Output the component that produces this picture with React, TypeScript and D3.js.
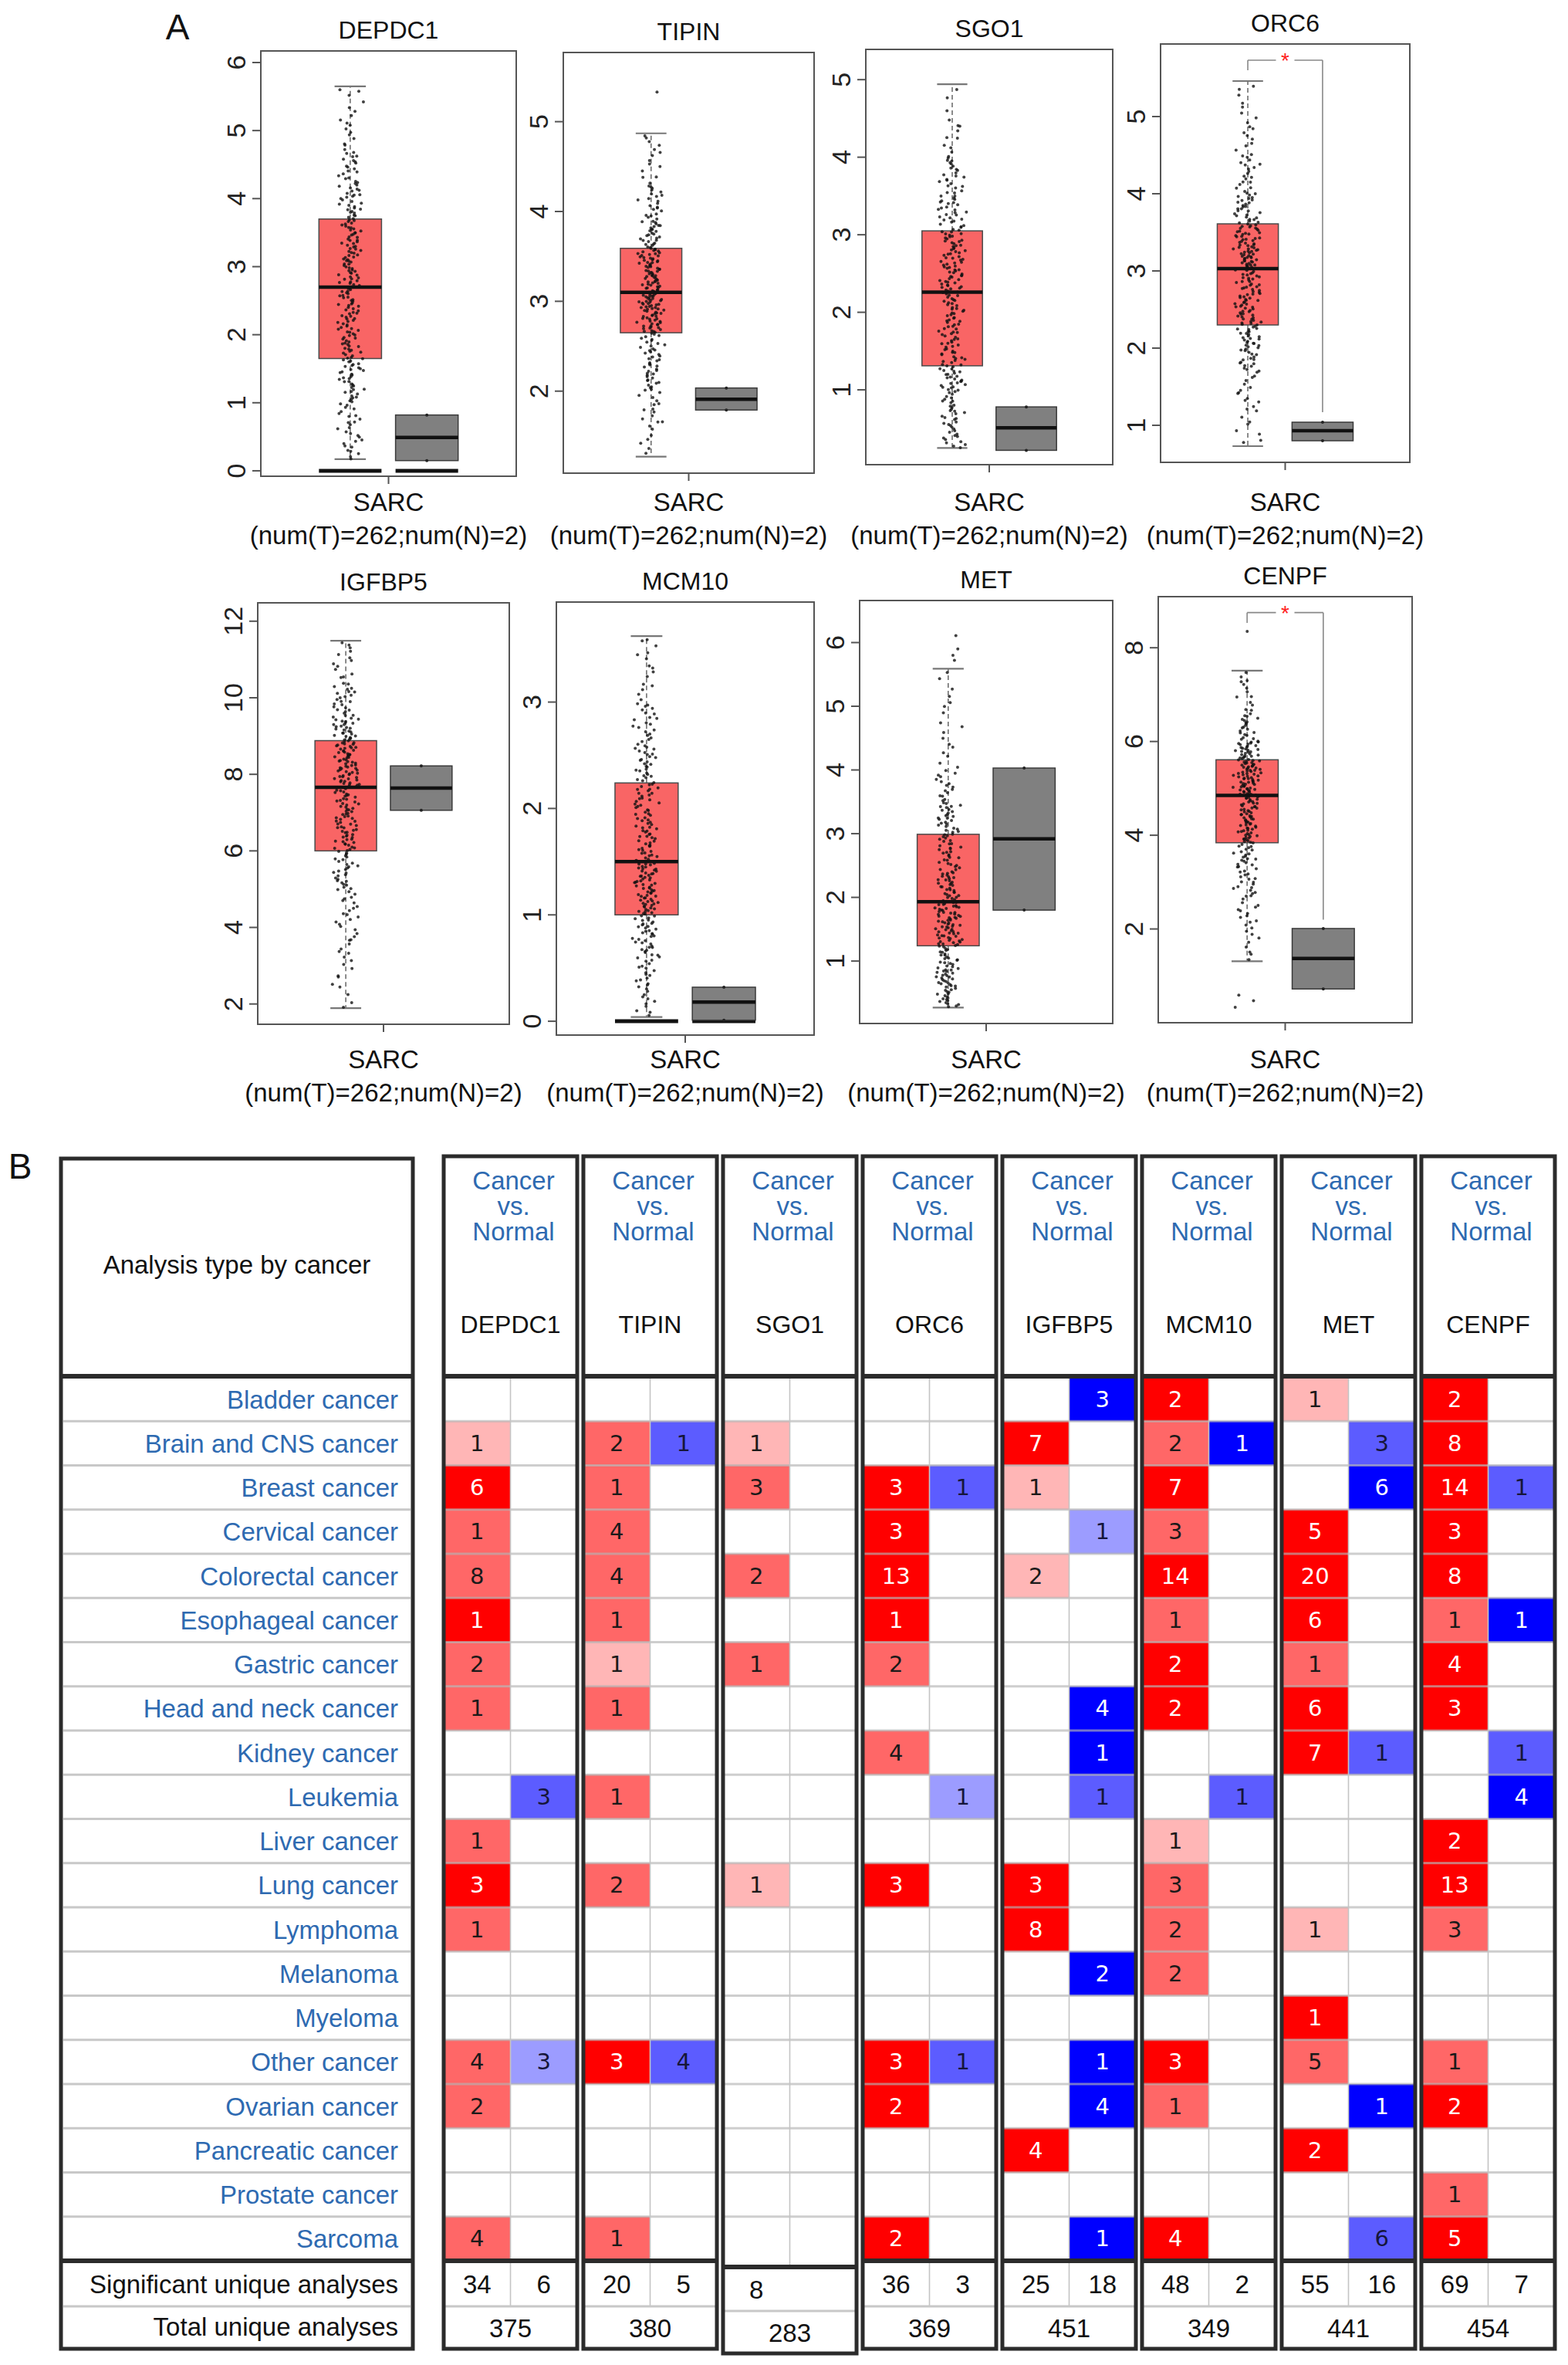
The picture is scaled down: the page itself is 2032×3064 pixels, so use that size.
import React from 'react';
import * as d3 from 'd3';

// ---------------- Panel A data ----------------
const panelGenes = ['DEPDC1', 'TIPIN', 'SGO1', 'ORC6', 'IGFBP5', 'MCM10', 'MET', 'CENPF'];
const groups = ['Tumor', 'Normal'];
const cohortLabel = 'SARC';
const cohortCounts = '(num(T)=262;num(N)=2)';

const yDomains: [number, number][] = [
  [-0.08, 6.17], [1.087, 5.77], [0.035, 5.39], [0.52, 5.94],
  [1.47, 12.48], [-0.13, 3.94], [0.02, 6.66], [0.0, 9.09],
];
const yTicks: number[][] = [
  [0, 1, 2, 3, 4, 5, 6], [2, 3, 4, 5], [1, 2, 3, 4, 5], [1, 2, 3, 4, 5],
  [2, 4, 6, 8, 10, 12], [0, 1, 2, 3], [1, 2, 3, 4, 5, 6], [2, 4, 6, 8],
];

// tumour box: [whisker low, Q1, median, Q3, whisker high]
const tumorStats: number[][] = [
  [0.17, 1.65, 2.70, 3.70, 5.65],
  [1.27, 2.65, 3.10, 3.59, 4.87],
  [0.25, 1.31, 2.26, 3.05, 4.94],
  [0.73, 2.30, 3.03, 3.61, 5.46],
  [1.89, 6.00, 7.66, 8.88, 11.49],
  [0.04, 1.00, 1.50, 2.24, 3.62],
  [0.27, 1.24, 1.93, 2.99, 5.59],
  [1.31, 3.84, 4.85, 5.61, 7.51],
];
// normal box: [min, median, max]
const normalStats: number[][] = [
  [0.15, 0.49, 0.82],
  [1.79, 1.91, 2.035],
  [0.22, 0.51, 0.78],
  [0.80, 0.93, 1.04],
  [7.06, 7.64, 8.22],
  [0.01, 0.18, 0.32],
  [1.80, 2.92, 4.03],
  [0.72, 1.37, 2.01],
];
const zeroBaseline = [true, false, false, false, false, true, false, false];
const tumorOutliers: number[][] = [[], [5.33], [], [], [], [], [5.72, 5.8, 5.9, 6.11], [8.35, 0.59, 0.47, 0.33]];

// density of the jittered tumour points: bin edges and counts
const binEdges: number[][] = [
  [0.17, 0.6, 1.0, 1.35, 1.65, 2.2, 2.7, 3.2, 3.7, 4.2, 4.7, 5.2, 5.65],
  [1.27, 1.6, 2.0, 2.3, 2.65, 2.9, 3.1, 3.35, 3.59, 3.9, 4.3, 4.87],
  [0.25, 0.6, 1.0, 1.31, 1.8, 2.26, 2.65, 3.05, 3.5, 4.0, 4.5, 4.94],
  [0.73, 1.2, 1.7, 2.0, 2.3, 2.65, 3.03, 3.3, 3.61, 4.0, 4.5, 5.0, 5.46],
  [1.89, 3, 4, 5, 6, 6.8, 7.66, 8.3, 8.88, 9.5, 10.3, 11.49],
  [0.04, 0.3, 0.6, 0.8, 1.0, 1.25, 1.5, 1.85, 2.24, 2.6, 3.0, 3.62],
  [0.27, 0.6, 0.9, 1.24, 1.6, 1.93, 2.4, 2.99, 3.5, 4.0, 4.8, 5.59],
  [1.31, 2.0, 2.7, 3.3, 3.84, 4.35, 4.85, 5.25, 5.61, 6.0, 6.6, 7.51],
];
const binCounts: number[][] = [
  [14, 14, 18, 19, 34, 32, 34, 32, 28, 20, 10, 7],
  [6, 14, 20, 25, 33, 33, 34, 32, 28, 22, 14],
  [18, 22, 25, 34, 32, 34, 32, 28, 24, 10, 3],
  [8, 14, 18, 25, 32, 34, 34, 32, 28, 20, 11, 6],
  [8, 12, 17, 28, 32, 34, 34, 32, 28, 22, 15],
  [10, 18, 17, 20, 33, 33, 34, 32, 28, 22, 15],
  [20, 24, 21, 34, 32, 34, 32, 28, 16, 10, 7],
  [8, 14, 18, 22, 33, 33, 34, 32, 29, 22, 13],
];
// significance bracket: [top, left drop end, right drop end]
const sigBrackets: (number[] | null)[] = [null, null, null, [5.73, 5.6, 1.17], null, null, null, [8.75, 8.53, 2.2]];

// ---------------- Panel B data ----------------
const cancers = [
  'Bladder cancer', 'Brain and CNS cancer', 'Breast cancer', 'Cervical cancer', 'Colorectal cancer',
  'Esophageal cancer', 'Gastric cancer', 'Head and neck cancer', 'Kidney cancer', 'Leukemia',
  'Liver cancer', 'Lung cancer', 'Lymphoma', 'Melanoma', 'Myeloma', 'Other cancer',
  'Ovarian cancer', 'Pancreatic cancer', 'Prostate cancer', 'Sarcoma',
];
const tableGenes = ['DEPDC1', 'TIPIN', 'SGO1', 'ORC6', 'IGFBP5', 'MCM10', 'MET', 'CENPF'];
// cell codes: count + level (s = strongest, m = medium, l = light)
const upDEPDC1 = ['', '1l', '6s', '1m', '8m', '1s', '2m', '1m', '', '', '1m', '3s', '1m', '', '', '4m', '2m', '', '', '4m'];
const downDEPDC1 = ['', '', '', '', '', '', '', '', '', '3m', '', '', '', '', '', '3l', '', '', '', ''];
const upTIPIN = ['', '2m', '1m', '4m', '4m', '1m', '1l', '1m', '', '1m', '', '2m', '', '', '', '3s', '', '', '', '1m'];
const downTIPIN = ['', '1m', '', '', '', '', '', '', '', '', '', '', '', '', '', '4m', '', '', '', ''];
const upSGO1 = ['', '1l', '3m', '', '2m', '', '1m', '', '', '', '', '1l', '', '', '', '', '', '', '', ''];
const downSGO1 = ['', '', '', '', '', '', '', '', '', '', '', '', '', '', '', '', '', '', '', ''];
const upORC6 = ['', '', '3s', '3s', '13s', '1s', '2m', '', '4m', '', '', '3s', '', '', '', '3s', '2s', '', '', '2s'];
const downORC6 = ['', '', '1m', '', '', '', '', '', '', '1l', '', '', '', '', '', '1m', '', '', '', ''];
const upIGFBP5 = ['', '7s', '1l', '', '2l', '', '', '', '', '', '', '3s', '8s', '', '', '', '', '4s', '', ''];
const downIGFBP5 = ['3s', '', '', '1l', '', '', '', '4s', '1s', '1m', '', '', '', '2s', '', '1s', '4s', '', '', '1s'];
const upMCM10 = ['2s', '2m', '7s', '3m', '14s', '1m', '2s', '2s', '', '', '1l', '3m', '2m', '2m', '', '3s', '1m', '', '', '4s'];
const downMCM10 = ['', '1s', '', '', '', '', '', '', '', '1m', '', '', '', '', '', '', '', '', '', ''];
const upMET = ['1l', '', '', '5s', '20s', '6s', '1m', '6s', '7s', '', '', '', '1l', '', '1s', '5m', '', '2s', '', ''];
const downMET = ['', '3m', '6s', '', '', '', '', '', '1m', '', '', '', '', '', '', '', '1s', '', '', '6m'];
const upCENPF = ['2s', '8s', '14s', '3s', '8s', '1m', '4s', '3s', '', '', '2s', '13s', '3m', '', '', '1m', '2s', '', '1m', '5s'];
const downCENPF = ['', '', '1m', '', '', '1s', '', '', '1m', '4s', '', '', '', '', '', '', '', '', '', ''];
const sigUp = [34, 20, 8, 36, 25, 48, 55, 69];
const sigDown: (number | null)[] = [6, 5, null, 3, 18, 2, 16, 7];
const totalAnalyses = [375, 380, 283, 369, 451, 349, 441, 454];

const upCells = [upDEPDC1, upTIPIN, upSGO1, upORC6, upIGFBP5, upMCM10, upMET, upCENPF];
const downCells = [downDEPDC1, downTIPIN, downSGO1, downORC6, downIGFBP5, downMCM10, downMET, downCENPF];

// ---------------- layout / style ----------------
const FONT = "'Liberation Sans', Arial, Helvetica, sans-serif";
const NUMFONT = "'DejaVu Sans', Verdana, sans-serif";
const BLUE_TEXT = '#2E6AB1';
const TUMOR_FILL = '#F96565';
const NORMAL_FILL = '#808080';
const redShades: Record<string, string> = { s: '#FF0000', m: '#FF6767', l: '#FFB6B6' };
const blueShades: Record<string, string> = { s: '#0000FF', m: '#5C5CFF', l: '#9C9CFF' };

const panelBoxes: number[][] = [
  [338, 669, 66, 617], [730, 1055, 68, 613], [1122, 1442, 64, 602], [1504, 1827, 57, 599],
  [334, 660, 781, 1327], [721, 1055, 780, 1341], [1114, 1442, 778, 1326], [1501, 1830, 773, 1325],
];
const rowLabelY = [[662, 705], [1384, 1427]];

// deterministic scatter used only to lay the dots out inside their bin (visual jitter)
const hash = (n: number) => {
  const s = Math.sin(n * 12.9898 + 78.233) * 43758.5453;
  return s - Math.floor(s);
};

function BoxPanel({ i }: { i: number }) {
  const [l, r, t, b] = panelBoxes[i];
  const y = d3.scaleLinear().domain(yDomains[i]).range([b, t]);
  const x = d3.scalePoint<string>().domain(groups).range([l, r]).padding(7 / 6);
  const bw = (r - l) * 0.245;
  const row = i < 4 ? 0 : 1;
  const cx = (l + r) / 2;
  const xT = x('Tumor')!;
  const xN = x('Normal')!;
  const [wl, q1, med, q3, wh] = tumorStats[i];
  const [nmin, nmed, nmax] = normalStats[i];
  const jit = 16;

  const pts: [number, number][] = [];
  const edges = binEdges[i];
  const counts = binCounts[i];
  let seed = i * 1000;
  counts.forEach((n, bi) => {
    const lo = edges[bi];
    const hi = edges[bi + 1];
    for (let k = 0; k < n; k++) {
      seed += 1;
      const fy = (k + hash(seed * 1.7)) / n;
      const v = lo + fy * (hi - lo);
      const fx = (hash(seed * 3.1 + 0.5) + hash(seed * 5.3 + 0.25)) / 2 - 0.5;
      pts.push([xT + fx * 2.4 * jit, y(v)]);
    }
  });
  tumorOutliers[i].forEach((v, k) => {
    pts.push([xT + (hash(k * 7.7 + i) - 0.5) * 2 * jit, y(v)]);
  });

  const bracket = sigBrackets[i];
  const boxStroke = '#4a4a4a';

  return (
    <g>
      <rect x={l} y={t} width={r - l} height={b - t} fill="#fff" stroke="#555" strokeWidth={2} />
      {zeroBaseline[i] && (
        <g>
          <line x1={xT - bw / 2} x2={xT + bw / 2} y1={y(0)} y2={y(0)} stroke="#111" strokeWidth={5} />
          <line x1={xN - bw / 2} x2={xN + bw / 2} y1={y(0)} y2={y(0)} stroke="#111" strokeWidth={5} />
        </g>
      )}
      <line x1={xT} x2={xT} y1={y(q3)} y2={y(wh)} stroke="#666" strokeWidth={1.5} strokeDasharray="6 4" />
      <line x1={xT} x2={xT} y1={y(q1)} y2={y(wl)} stroke="#666" strokeWidth={1.5} strokeDasharray="6 4" />
      <line x1={xT - bw / 4} x2={xT + bw / 4} y1={y(wh)} y2={y(wh)} stroke="#777" strokeWidth={2.2} />
      <line x1={xT - bw / 4} x2={xT + bw / 4} y1={y(wl)} y2={y(wl)} stroke="#777" strokeWidth={2.2} />
      <rect x={xT - bw / 2} y={y(q3)} width={bw} height={y(q1) - y(q3)} fill={TUMOR_FILL} stroke={boxStroke} strokeWidth={1.5} />
      <rect x={xN - bw / 2} y={y(nmax)} width={bw} height={y(nmin) - y(nmax)} fill={NORMAL_FILL} stroke="#3a3a3a" strokeWidth={1.5} />
      <circle cx={xN} cy={y(nmax)} r={2} fill="#222" />
      <circle cx={xN} cy={y(nmin)} r={2} fill="#222" />
      {pts.map((p, k) => (
        <circle key={k} cx={p[0]} cy={p[1]} r={2} fill="#111" fillOpacity={0.8} />
      ))}
      <line x1={xT - bw / 2} x2={xT + bw / 2} y1={y(med)} y2={y(med)} stroke="#111" strokeWidth={4.5} />
      <line x1={xN - bw / 2} x2={xN + bw / 2} y1={y(nmed)} y2={y(nmed)} stroke="#111" strokeWidth={4.5} />
      {bracket && (
        <g stroke="#888" strokeWidth={1.6} fill="none">
          <line x1={xT} x2={xT} y1={y(bracket[0])} y2={y(bracket[1])} />
          <line x1={xN} x2={xN} y1={y(bracket[0])} y2={y(bracket[2])} />
          <line x1={xT} x2={(xT + xN) / 2 - 12} y1={y(bracket[0])} y2={y(bracket[0])} />
          <line x1={(xT + xN) / 2 + 12} x2={xN} y1={y(bracket[0])} y2={y(bracket[0])} />
          <text x={(xT + xN) / 2} y={y(bracket[0]) + 10} fill="#FF2020" stroke="none" fontSize={28} textAnchor="middle" fontFamily={FONT}>*</text>
        </g>
      )}
      {yTicks[i].map((tv) => (
        <g key={tv}>
          <line x1={l - 11} x2={l} y1={y(tv)} y2={y(tv)} stroke="#555" strokeWidth={2} />
          <text
            transform={`translate(${l - 32},${y(tv)}) rotate(-90)`}
            textAnchor="middle"
            dominantBaseline="central"
            fontSize={34}
            fontFamily={FONT}
            fill="#222"
          >
            {tv}
          </text>
        </g>
      ))}
      <line x1={cx} x2={cx} y1={b} y2={b + 10} stroke="#555" strokeWidth={2} />
      <text x={cx} y={t - 16} textAnchor="middle" fontSize={32} fontFamily={FONT} fill="#111">{panelGenes[i]}</text>
      <text x={cx} y={rowLabelY[row][0]} textAnchor="middle" fontSize={33} fontFamily={FONT} fill="#111">{cohortLabel}</text>
      <text x={cx} y={rowLabelY[row][1]} textAnchor="middle" fontSize={33} fontFamily={FONT} fill="#111">{cohortCounts}</text>
    </g>
  );
}

function Table() {
  const xGene = d3.scaleBand<string>().domain(tableGenes).range([575, 2015]).paddingInner(0.044);
  const yRow = d3.scaleBand<string>().domain(cancers).range([1784, 2929]);
  const rh = yRow.bandwidth();
  const labL = 79;
  const labR = 535;
  const top = 1498;
  const headY = 1783;
  const bodyB = 2929;
  const sumMid = 2988;
  const bottom = 3043;
  const gw = xGene.bandwidth();

  const parse = (code: string) => {
    const m = /^(\d+)([sml])$/.exec(code);
    return m ? { n: m[1], lv: m[2] } : null;
  };

  const rowLines = cancers.slice(1).map((c) => yRow(c)!);

  return (
    <g>
      <text x={(labL + labR) / 2} y={1650} textAnchor="middle" fontSize={33} fontFamily={FONT} fill="#111">Analysis type by cancer</text>
      {cancers.map((c) => (
        <text key={c} x={516} y={yRow(c)! + rh / 2 + 12} textAnchor="end" fontSize={33} fontFamily={FONT} fill={BLUE_TEXT}>{c}</text>
      ))}
      {rowLines.map((yy, k) => (
        <line key={k} x1={labL + 3} x2={labR - 3} y1={yy} y2={yy} stroke="#c8c8c8" strokeWidth={3} />
      ))}
      <line x1={labL + 3} x2={labR - 3} y1={sumMid} y2={sumMid} stroke="#c8c8c8" strokeWidth={3} />
      <text x={516} y={2971} textAnchor="end" fontSize={33} fontFamily={FONT} fill="#111">Significant unique analyses</text>
      <text x={516} y={3026} textAnchor="end" fontSize={33} fontFamily={FONT} fill="#111">Total unique analyses</text>
      <rect x={labL} y={top + 3} width={labR - labL} height={bottom - top - 3} fill="none" stroke="#2b2b2b" strokeWidth={5} />
      <line x1={labL} x2={labR} y1={headY} y2={headY} stroke="#2b2b2b" strokeWidth={6} />
      <line x1={labL} x2={labR} y1={bodyB} y2={bodyB} stroke="#2b2b2b" strokeWidth={6} />

      {tableGenes.map((g, j) => {
        const x0 = xGene(g)!;
        const x1 = x0 + gw;
        const xm = (x0 + x1) / 2;
        const isSingle = sigDown[j] === null;
        const bB = isSingle ? bodyB + 8 : bodyB;
        const sMid = isSingle ? sumMid + 6 : sumMid;
        const bot = isSingle ? bottom + 6 : bottom;
        const cx = (x0 + x1) / 2;
        const cells: React.ReactNode[] = [];
        cancers.forEach((c, ri) => {
          const yy = yRow(c)!;
          const u = parse(upCells[j][ri]);
          const d = parse(downCells[j][ri]);
          if (u) {
            cells.push(
              <g key={`u${ri}`}>
                <rect x={x0} y={yy} width={xm - x0} height={rh} fill={redShades[u.lv]} />
                <text x={(x0 + xm) / 2} y={yy + rh / 2} textAnchor="middle" dominantBaseline="central" fontSize={29} fontFamily={NUMFONT} fill={u.lv === 's' ? '#fff' : '#1a1a1a'}>{u.n}</text>
              </g>
            );
          }
          if (d) {
            cells.push(
              <g key={`d${ri}`}>
                <rect x={xm} y={yy} width={x1 - xm} height={rh} fill={blueShades[d.lv]} />
                <text x={(xm + x1) / 2} y={yy + rh / 2} textAnchor="middle" dominantBaseline="central" fontSize={29} fontFamily={NUMFONT} fill={d.lv === 's' ? '#fff' : '#16163a'}>{d.n}</text>
              </g>
            );
          }
        });
        return (
          <g key={g}>
            {cells}
            {rowLines.map((yy, k) => (
              <line key={k} x1={x0} x2={x1} y1={yy} y2={yy} stroke="#b4b4b4" strokeOpacity={0.65} strokeWidth={3} />
            ))}
            <line x1={xm} x2={xm} y1={headY} y2={isSingle ? bB : sMid} stroke="#c4c4c4" strokeWidth={1.6} />
            <line x1={x0} x2={x1} y1={sMid} y2={sMid} stroke="#c8c8c8" strokeWidth={3} />
            {['Cancer', 'vs.', 'Normal'].map((w, k) => (
              <text key={w} x={cx + 4} y={1541 + k * 33} textAnchor="middle" fontSize={33} fontFamily={FONT} fill={BLUE_TEXT}>{w}</text>
            ))}
            <text x={cx} y={1727} textAnchor="middle" fontSize={32} fontFamily={FONT} fill="#111">{g}</text>
            <text x={(x0 + xm) / 2} y={(bB + sMid) / 2 + 12} textAnchor="middle" fontSize={33} fontFamily={FONT} fill="#111">{sigUp[j]}</text>
            {sigDown[j] !== null && (
              <text x={(xm + x1) / 2} y={(bB + sMid) / 2 + 12} textAnchor="middle" fontSize={33} fontFamily={FONT} fill="#111">{sigDown[j]}</text>
            )}
            <text x={cx} y={(sMid + bot) / 2 + 12} textAnchor="middle" fontSize={33} fontFamily={FONT} fill="#111">{totalAnalyses[j]}</text>
            <rect x={x0} y={top} width={gw} height={bot - top} fill="none" stroke="#2b2b2b" strokeWidth={5} />
            <line x1={x0} x2={x1} y1={headY} y2={headY} stroke="#2b2b2b" strokeWidth={6} />
            <line x1={x0} x2={x1} y1={bB} y2={bB} stroke="#2b2b2b" strokeWidth={6} />
          </g>
        );
      })}
    </g>
  );
}

export default function App() {
  return (
    <svg
      width={2032}
      height={3064}
      viewBox="0 0 2032 3064"
      style={{ position: 'absolute', left: 0, top: 0, background: '#fff' }}
    >
      <rect x={0} y={0} width={2032} height={3064} fill="#fff" />
      <text x={230} y={51} textAnchor="middle" fontSize={46} fontFamily={FONT} fill="#111">A</text>
      {panelGenes.map((g, i) => (
        <BoxPanel key={g} i={i} />
      ))}
      <text x={26} y={1527} textAnchor="middle" fontSize={46} fontFamily={FONT} fill="#111">B</text>
      <Table />
    </svg>
  );
}
